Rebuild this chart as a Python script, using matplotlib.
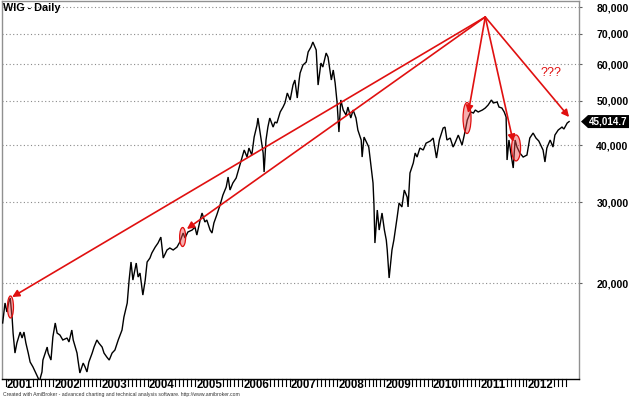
import matplotlib
matplotlib.use("Agg")
import matplotlib.pyplot as plt
from matplotlib.patches import Ellipse, Polygon
from matplotlib.ticker import NullLocator, FixedLocator
from matplotlib.transforms import IdentityTransform

plt.rcParams['font.family'] = ['Liberation Sans', 'DejaVu Sans']

# ---- data (decimal year, WIG index level) ----
years = [
    2000.94, 2000.99, 2001.03, 2001.07, 2001.10, 2001.14, 2001.16, 2001.20, 2001.24, 2001.31,
    2001.35, 2001.39, 2001.43, 2001.48, 2001.52, 2001.58, 2001.64, 2001.69, 2001.71, 2001.77,
    2001.79, 2001.88, 2001.90, 2001.96, 2002.00, 2002.05, 2002.09, 2002.15, 2002.21, 2002.30,
    2002.34, 2002.40, 2002.43, 2002.51, 2002.53, 2002.57, 2002.64, 2002.68, 2002.72, 2002.76,
    2002.83, 2002.87, 2002.93, 2002.97, 2003.04, 2003.08, 2003.14, 2003.19, 2003.25, 2003.31,
    2003.38, 2003.46, 2003.50, 2003.57, 2003.61, 2003.65, 2003.69, 2003.76, 2003.80, 2003.84,
    2003.90, 2003.95, 2003.99, 2004.05, 2004.09, 2004.16, 2004.22, 2004.28, 2004.33, 2004.41,
    2004.47, 2004.54, 2004.62, 2004.68, 2004.75, 2004.79, 2004.85, 2004.94, 2005.00, 2005.04,
    2005.11, 2005.15, 2005.21, 2005.25, 2005.32, 2005.36, 2005.40, 2005.46, 2005.53, 2005.59,
    2005.66, 2005.70, 2005.74, 2005.80, 2005.87, 2005.93, 2005.99, 2006.04, 2006.10, 2006.14,
    2006.20, 2006.25, 2006.31, 2006.33, 2006.40, 2006.44, 2006.46, 2006.50, 2006.54, 2006.58,
    2006.65, 2006.69, 2006.73, 2006.80, 2006.86, 2006.90, 2006.95, 2007.01, 2007.07, 2007.11,
    2007.16, 2007.20, 2007.22, 2007.28, 2007.35, 2007.39, 2007.45, 2007.49, 2007.56, 2007.60,
    2007.66, 2007.70, 2007.77, 2007.81, 2007.88, 2007.92, 2007.96, 2008.00, 2008.04, 2008.08,
    2008.13, 2008.19, 2008.23, 2008.29, 2008.34, 2008.40, 2008.44, 2008.51, 2008.53, 2008.57,
    2008.63, 2008.67, 2008.72, 2008.76, 2008.78, 2008.80, 2008.85, 2008.89, 2008.95, 2009.00,
    2009.04, 2009.06, 2009.10, 2009.16, 2009.20, 2009.27, 2009.31, 2009.37, 2009.42, 2009.48,
    2009.50, 2009.54, 2009.61, 2009.65, 2009.69, 2009.75, 2009.82, 2009.88, 2009.97, 2010.03,
    2010.10, 2010.16, 2010.24, 2010.28, 2010.32, 2010.39, 2010.45, 2010.49, 2010.56, 2010.64,
    2010.71, 2010.75, 2010.82, 2010.88, 2010.92, 2010.98, 2011.07, 2011.13, 2011.19, 2011.26,
    2011.30, 2011.38, 2011.42, 2011.48, 2011.53, 2011.57, 2011.59, 2011.63, 2011.67, 2011.72,
    2011.76, 2011.80, 2011.86, 2011.93, 2012.01, 2012.07, 2012.14, 2012.20, 2012.26, 2012.35,
    2012.39, 2012.43, 2012.50, 2012.56, 2012.60, 2012.67, 2012.75, 2012.79, 2012.86, 2012.90,
]
wig = [
    16360, 18090, 17290, 18180, 18540, 16775, 15550, 14065, 14795, 15630,
    15170, 15630, 14795, 14065, 13445, 13115, 12725, 12400, 12150, 12790,
    13580, 14495, 14065, 13580, 15245, 16360, 15550, 15395, 15020, 15170,
    14870, 15790, 15020, 14065, 13580, 12725, 13375, 13115, 12790, 13445,
    14065, 14495, 15020, 14795, 14495, 14065, 13780, 13580, 14065, 14280,
    15020, 15790, 16850, 18085, 20300, 22225, 20300, 22110, 20610, 21030,
    18825, 20300, 22225, 22675, 23255, 23950, 24450, 25190, 22675, 23610,
    23845, 23610, 23950, 24570, 25710, 25070, 25840, 26100, 26490, 25450,
    27450, 28430, 27175, 27450, 26100, 25710, 27040, 28140, 29590, 31110,
    32390, 34065, 31910, 33055, 33895, 35645, 37480, 39020, 37665, 39410,
    38045, 41645, 44220, 45825, 41030, 38435, 34935, 41030, 43785, 45825,
    43785, 44915, 44690, 47235, 48425, 49420, 51960, 50170, 54085, 55470,
    50670, 55470, 57455, 59800, 60715, 63855, 65470, 67140, 64500, 54085,
    60410, 59205, 63530, 62250, 55470, 58330, 54640, 49670, 42710, 50170,
    47710, 46505, 48425, 45825, 47710, 45825, 43140, 41030, 37665, 41645,
    40385, 39605, 35820, 33055, 29590, 24450, 28860, 26100, 28430, 26100,
    24820, 23610, 20510, 23610, 24820, 27860, 29895, 29310, 31910, 30805,
    29310, 34760, 36550, 38435, 37665, 39410, 39020, 40385, 40825, 41440,
    37480, 41030, 43570, 43785, 41030, 41440, 39605, 40385, 42060, 39995,
    43140, 45370, 47235, 46995, 47710, 47235, 47710, 48190, 48915, 50170,
    49420, 49670, 48425, 48190, 47235, 46050, 37110, 41030, 38435, 35645,
    41030, 39605, 38435, 37665, 38045, 41440, 42495, 41440, 40825, 39020,
    36740, 39410, 41030, 39605, 42060, 43140, 43785, 43355, 44690, 45015,
]
last_value_label = "45,014.7"

ytick_values = [20000, 30000, 40000, 50000, 60000, 70000, 80000]
ytick_labels = ["20,000", "30,000", "40,000", "50,000", "60,000", "70,000", "80,000"]
year_labels = list(range(2001, 2013))

# annotation arrows: common origin and targets (year, level)
arrow_origin = (2011.13, 76130)
arrow_targets = [(2001.14, 18640), (2004.83, 26240), (2010.77, 46990),
                 (2011.72, 40640), (2012.90, 46055)]
# highlighted ellipses: (year, level) centres
ellipse_centres = [(2001.105, 17730), (2004.74, 25200), (2010.745, 45830), (2011.78, 39430)]
ellipse_sizes_px = [(6, 22), (6, 19), (8, 31), (9, 26)]
question_pos = (2012.52, 57450)

RED = '#e01010'

W, H = 629, 398
fig = plt.figure(figsize=(W / 100, H / 100), dpi=100)
fig.patch.set_facecolor('white')
ax_l, ax_b, ax_w, ax_h = 2, 19, 577, 378
ax = fig.add_axes([ax_l / W, ax_b / H, ax_w / W, ax_h / H])
ax.set_yscale('log')
ax.set_xlim(2000.926, 2013.109)
ax.set_ylim(12346, 82508)

ax.plot(years, wig, color='black', lw=1.0, solid_joinstyle='miter', zorder=3)

# y axis on the right
ax.yaxis.tick_right()
ax.yaxis.set_major_locator(FixedLocator(ytick_values))
ax.yaxis.set_minor_locator(NullLocator())
ax.set_yticklabels(ytick_labels, fontsize=7.6, fontweight='bold')
for lab in ax.get_yticklabels():
    lab.set_horizontalalignment('left')
ax.tick_params(axis='y', which='major', length=2.5, width=0.8, pad=10, color='#606060')
for v in ytick_values:
    ax.axhline(v, color='#8a8a8a', lw=0.8, ls=(0, (1, 2.2)), zorder=1)

# x axis: monthly ticks + year labels
ax.xaxis.set_major_locator(NullLocator())
ax.xaxis.set_minor_locator(NullLocator())
last_t = years[-1]
for y in range(2000, 2013):
    for m in range(12):
        t = y + m / 12.0
        if t < 2000.926 or t > last_t:
            continue
        if m == 0 or m >= 7:
            ax.plot([t, t], [0, -0.018], transform=ax.get_xaxis_transform(),
                    color='black', lw=0.8, clip_on=False)
for y in year_labels:
    ax.text(y + 0.028, -0.0251, str(y), transform=ax.get_xaxis_transform(),
            ha='left', va='baseline', fontsize=8.3, fontweight='bold')

for s in ['left', 'top', 'right']:
    ax.spines[s].set_color('#909090')
    ax.spines[s].set_linewidth(1.0)
ax.spines['bottom'].set_color('black')
ax.spines['bottom'].set_linewidth(1.0)

# arrows
for tgt in arrow_targets:
    ax.annotate('', xy=tgt, xytext=arrow_origin,
                arrowprops=dict(arrowstyle='-|>', color=RED, lw=1.2,
                                mutation_scale=10.5, shrinkA=0, shrinkB=0),
                zorder=5)

# ellipses (sized in pixels, centred on data points)
fig.canvas.draw()
for (ct, cv), (ew, eh) in zip(ellipse_centres, ellipse_sizes_px):
    cx, cy = ax.transAxes.inverted().transform(ax.transData.transform((ct, cv)))
    ax.add_patch(Ellipse((cx, cy), ew / ax_w, eh / ax_h, transform=ax.transAxes,
                         facecolor=(0.93, 0.3, 0.3, 0.45), edgecolor=RED, lw=0.9,
                         zorder=4))

ax.text(question_pos[0], question_pos[1], '???', color=RED, fontsize=9,
        ha='center', va='center')

# title
fig.text(3 / W, 1 - 8 / H, 'WIG - Daily', fontsize=7.8, fontweight='bold',
         ha='left', va='center')

# last value tag
lx, ly = ax.transData.transform((years[-1], wig[-1]))
x0 = (ax_l + ax_w) + 2
tag = Polygon([(x0, ly), (x0 + 7, ly + 6.5), (W + 5, ly + 6.5), (W + 5, ly - 6.5),
               (x0 + 7, ly - 6.5)], closed=True, transform=IdentityTransform(),
              facecolor='black', edgecolor='none')
fig.add_artist(tag)
fig.text((x0 + 8) / W, ly / H, last_value_label, color='white', fontsize=7.1,
         fontweight='bold', ha='left', va='center')

fig.text(3 / W, 3.8 / H,
         'Created with AmiBroker - advanced charting and technical analysis software. http://www.amibroker.com',
         fontsize=3.7, color='#333333', ha='left', va='center')

fig.savefig('out.png', dpi=100, facecolor='white')
